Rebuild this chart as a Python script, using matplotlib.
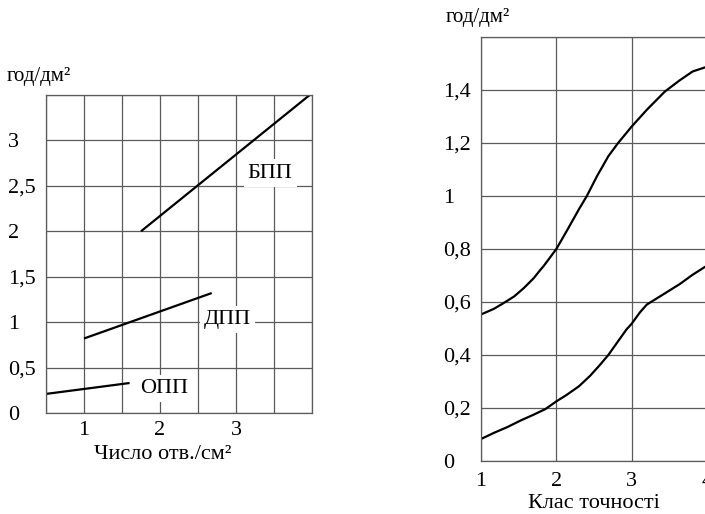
import numpy as np
import matplotlib.pyplot as plt

plt.rcParams['font.family'] = ['Liberation Serif', 'DejaVu Serif']

# left chart: lines, (x, y) of start and end
bpp_x = [1.75, 3.97]
bpp_y = [2.0, 3.5]
dpp_x = [1.0, 2.68]
dpp_y = [0.82, 1.32]
opp_x = [0.5, 1.6]
opp_y = [0.21, 0.33]

left_xticks = ['', '1', '', '2', '', '3', '', '']
left_yticks = ['0', '0,5', '1', '1,5', '2', '2,5', '3', '']

# right chart: two curves vs accuracy class
upper_x = [1.0, 1.17, 1.30, 1.44, 1.57, 1.70, 1.79, 1.83, 2.0, 2.14, 2.30, 2.405, 2.54,
           2.69, 2.82, 3.0, 3.20, 3.44, 3.64, 3.81, 3.97, 4.0]
upper_y = [0.553, 0.574, 0.596, 0.621, 0.653, 0.69, 0.722, 0.735, 0.80, 0.869, 0.95, 1.0,
           1.075, 1.15, 1.20, 1.262, 1.325, 1.394, 1.437, 1.47, 1.485, 1.487]
lower_x = [1.0, 1.17, 1.35, 1.52, 1.70, 1.855, 2.0, 2.14, 2.30, 2.45, 2.58, 2.69, 2.82,
           2.93, 3.0, 3.11, 3.20, 3.29, 3.46, 3.64, 3.81, 3.97, 4.0]
lower_y = [0.083, 0.106, 0.128, 0.152, 0.175, 0.196, 0.225, 0.25, 0.282, 0.322, 0.363,
           0.40, 0.452, 0.496, 0.518, 0.561, 0.59, 0.606, 0.636, 0.668, 0.703, 0.732, 0.736]

right_yticks = ['0', '0,2', '0,4', '0,6', '0,8', '1', '1,2', '1,4', '']

grid_c = '#5a5a5a'
fs = 16

fig = plt.figure(figsize=(7.05, 5.14), dpi=100)

def style(ax):
    ax.grid(True, color=grid_c, lw=0.9)
    ax.set_axisbelow(True)
    for s in ax.spines.values():
        s.set_color(grid_c)
        s.set_linewidth(0.9)
    ax.tick_params(length=0, labelsize=fs)
    ax.tick_params(axis='y', pad=27.4)
    for lab in ax.get_yticklabels():
        lab.set_horizontalalignment('left')

# ---- left ----
ax1 = fig.add_axes([46/705, 1-413/514, 266/705, 318/514])
ax1.set_xlim(0.5, 4.0)
ax1.set_ylim(0, 3.5)
ax1.set_xticks(np.arange(0.5, 4.01, 0.5))
ax1.set_xticklabels(left_xticks)
ax1.set_yticks(np.arange(0, 3.51, 0.5))
ax1.set_yticklabels(left_yticks)
style(ax1)
ax1.tick_params(axis='x', pad=6)

for xs, ys in [(bpp_x, bpp_y), (dpp_x, dpp_y), (opp_x, opp_y)]:
    ax1.plot(xs, ys, color='black', lw=1.6, solid_capstyle='butt')

box = dict(facecolor='white', edgecolor='none', pad=3)
ax1.text(3.45, 2.64, 'БПП', fontsize=fs, ha='center', va='center', bbox=box)
ax1.text(2.89, 1.03, 'ДПП', fontsize=fs, ha='center', va='center', bbox=box)
ax1.text(2.05, 0.27, 'ОПП', fontsize=fs, ha='center', va='center', bbox=box)

ax1.set_xlabel('Число отв./см²', fontsize=fs, va='center')
ax1.xaxis.set_label_coords(0.44, -0.13)
fig.text(7/705, 1-81/514, 'год/дм²', fontsize=15, va='baseline')

# ---- right ----
ax2 = fig.add_axes([481/705, 1-461/514, 226/705, 424/514])
ax2.set_xlim(1, 4)
ax2.set_ylim(0, 1.6)
ax2.set_xticks([1, 2, 3, 4])
ax2.set_yticks(np.arange(0, 1.61, 0.2))
ax2.set_yticklabels(right_yticks)
style(ax2)
ax2.tick_params(axis='x', pad=8)

ax2.plot(upper_x, upper_y, color='black', lw=1.6)
ax2.plot(lower_x, lower_y, color='black', lw=1.6)

ax2.set_xlabel('Клас точності', fontsize=fs, va='center')
ax2.xaxis.set_label_coords(0.50, -0.10)
fig.text(446/705, 1-22/514, 'год/дм²', fontsize=15, va='baseline')

fig.savefig('out.png', dpi=100)
